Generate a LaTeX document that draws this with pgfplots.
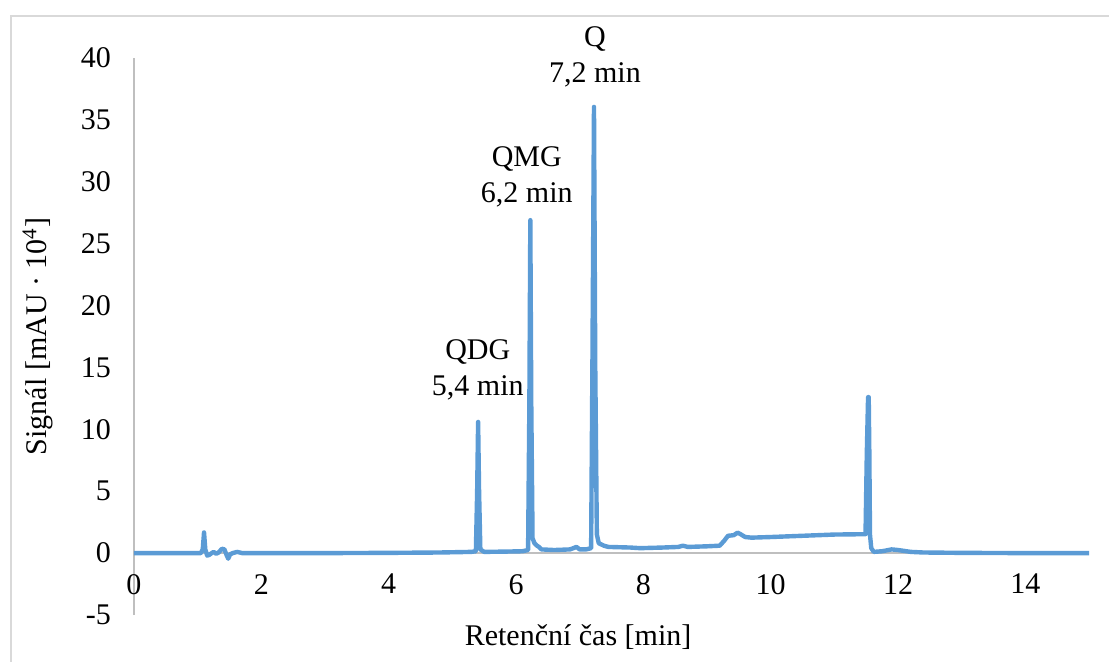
\documentclass[border=0pt]{standalone}
\usepackage{fontspec}
\setmainfont{Liberation Serif}
\usepackage{pgfplots}
\pgfplotsset{compat=1.18}
\definecolor{trace}{HTML}{5B9BD5}
\definecolor{axgray}{HTML}{BFBFBF}
\definecolor{framegray}{HTML}{D9D9D9}
\newcommand{\chartfont}{\fontsize{15}{18}\selectfont}

\begin{document}
\begin{tikzpicture}[font=\chartfont]
\useasboundingbox (0,0) rectangle (554.5pt,330.5pt);
% chart area frame
\draw[framegray, line width=0.8pt] (5.5pt,-20pt) rectangle (580pt,322.5pt);
\begin{axis}[
  at={(67pt,23pt)}, anchor=south west,
  scale only axis,
  width=477.5pt, height=278.5pt,
  xmin=0, xmax=15, ymin=-5, ymax=40,
  axis x line=middle, axis y line=left,
  axis line style={-, axgray, line width=0.9pt},
  hide obscured x ticks=false, hide obscured y ticks=false,
  xtick={0,2,...,14}, xticklabels={0,2,4,6,8,10,12,14},
  ytick={-5,0,...,40}, yticklabels={-5,0,5,10,15,20,25,30,35,40},
  major tick length=0pt,
  tick label style={font=\chartfont},
  xticklabel style={anchor=north, yshift=-7pt},
  yticklabel style={anchor=east, xshift=-8pt},
  xlabel={Retenční čas [min]},
  ylabel={Signál [mAU · 10\textsuperscript{4}]},
  label style={font=\chartfont},
  xlabel style={at={(axis description cs:0.465,0)}, anchor=center, yshift=-11pt},
  ylabel style={at={(axis description cs:0,0.5)}, anchor=center, rotate=0, yshift=48pt},
  clip=false,
]
\addplot[trace, line width=2.2pt, line join=round] coordinates {
(0,0) (1.05,0) (1.08,0.3) (1.10,1.67) (1.12,0.3) (1.15,-0.2) (1.18,-0.15)
(1.22,0) (1.25,0.1) (1.29,-0.05) (1.33,0.05) (1.38,0.35) (1.42,0.3)
(1.45,-0.1) (1.48,-0.45) (1.51,-0.1) (1.55,0) (1.62,0.1) (1.7,0)
(2,0) (3,0) (4,0.02) (4.8,0.05) (5.3,0.1) (5.37,0.15) (5.39,5)
(5.405,10.6) (5.42,5) (5.44,0.3) (5.5,0.1)
(5.8,0.12) (6.1,0.15) (6.19,0.25) (6.21,12) (6.225,26.9)
(6.24,12) (6.26,1.2) (6.29,0.8) (6.33,0.6) (6.36,0.5) (6.4,0.3)
(6.6,0.25) (6.85,0.3) (6.95,0.5) (7.0,0.3) (7.1,0.3) (7.18,0.4)
(7.20,15) (7.225,36.05) (7.245,15) (7.27,1.5)
(7.3,0.8) (7.38,0.6) (7.45,0.5) (7.8,0.45) (7.95,0.4) (8.3,0.45)
(8.55,0.5) (8.62,0.6) (8.7,0.5) (9.0,0.55) (9.2,0.6) (9.27,1.0)
(9.33,1.4) (9.42,1.45) (9.48,1.65) (9.52,1.55) (9.6,1.3) (9.7,1.25)
(10,1.3) (10.5,1.4) (11,1.5) (11.49,1.53) (11.51,8) (11.53,12.6)
(11.54,12.6) (11.55,8) (11.56,1.5) (11.58,0.4) (11.62,0.1) (11.75,0.15)
(11.9,0.3) (12.0,0.25) (12.2,0.1) (12.4,0.05) (13,0.02) (14,0) (15,0)
};
\node[align=center, font=\chartfont] at (axis cs:7.24,40.1) {Q\\7,2 min};
\node[align=center, font=\chartfont] at (axis cs:6.17,30.4) {QMG\\6,2 min};
\node[align=center, font=\chartfont] at (axis cs:5.40,14.8) {QDG\\5,4 min};
\end{axis}
\end{tikzpicture}
\end{document}
